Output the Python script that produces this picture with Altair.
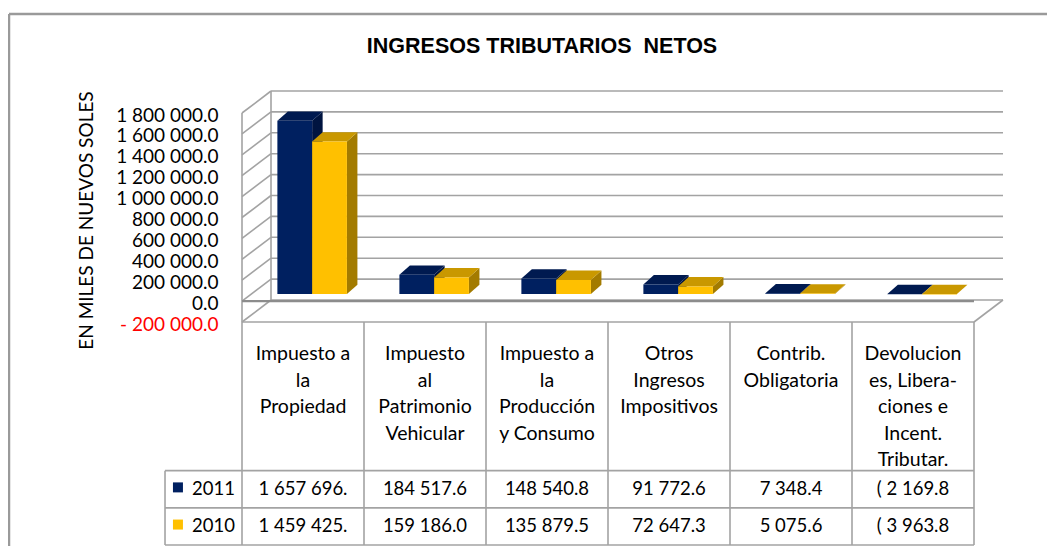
import altair as alt
import pandas as pd

# ---------------- data ----------------
TITLE = "INGRESOS TRIBUTARIOS \u00a0NETOS"
Y_TITLE = "EN MILES DE NUEVOS SOLES"
category_lines = [
    ["Impuesto a", "la", "Propiedad"],
    ["Impuesto", "al", "Patrimonio", "Vehicular"],
    ["Impuesto a", "la", "Producción", "y Consumo"],
    ["Otros", "Ingresos", "Impositivos"],
    ["Contrib.", "Obligatoria"],
    ["Devolucion", "es, Libera-", "ciones e", "Incent.", "Tributar."],
]
years = ["2011", "2010"]
values_2011 = [1657696.0, 184517.6, 148540.8, 91772.6, 7348.4, -2169.8]
values_2010 = [1459425.0, 159186.0, 135879.5, 72647.3, 5075.6, -3963.8]
table_2011 = ["1 657 696.", "184 517.6", "148 540.8", "91 772.6", "7 348.4", "( 2 169.8"]
table_2010 = ["1 459 425.", "159 186.0", "135 879.5", "72 647.3", "5 075.6", "( 3 963.8"]
y_ticks = [-200000, 0, 200000, 400000, 600000, 800000,
           1000000, 1200000, 1400000, 1600000, 1800000]

# ---------------- style ----------------
FONT = "Lato"
NAVY, NAVY_TOP, NAVY_SIDE = "#002060", "#001a50", "#001440"
GOLD, GOLD_TOP, GOLD_SIDE = "#FFC000", "#C99800", "#A37B00"
GRID, GW = "#a3a3a3", 1.6
AXIS_C = "#8c8c8c"
DX, DY = 29, -22            # wall depth (px)
BSHIFT = -7                 # bar plane shift (px)
NCAT = len(category_lines)
BAR_W = 0.285               # bar width (column units)
BAR_DEPTH_X = 0.086         # bar depth, column units (~10.5 px)
BAR_DEPTH_V = 90000         # bar depth, value units (~9.5 px)

X_SCALE = alt.Scale(domain=[0, NCAT], range=[234, 966], zero=False, nice=False)
Y_SCALE = alt.Scale(domain=[y_ticks[0], y_ticks[-1]], range=[314, 105], zero=False, nice=False)
T_SCALE = alt.Scale(domain=[0, 6], range=[314, 537], zero=False, nice=False)


def X(f):
    return alt.X(f, type="quantitative", scale=X_SCALE, axis=None)


def YV(f, axis=None):
    return alt.Y(f, type="quantitative", scale=Y_SCALE, axis=axis)


def YT(f):
    return alt.Y(f, type="quantitative", scale=T_SCALE, axis=None)


y_axis = alt.Axis(
    values=y_ticks, offset=-214, domain=False, ticks=False, tickSize=0, grid=False,
    labelPadding=4, labelFont=FONT, labelFontSize=19, labelOffset=2, labelOverlap=False,
    labelColor={"condition": {"test": "datum.value < 0", "value": "#ff0000"}, "value": "#000000"},
    labelExpr="(datum.value < 0 ? '- ' : '') + replace(format(abs(datum.value), ',.1f'), regexp(',', 'g'), ' ')",
    title=Y_TITLE, titleFont=FONT, titleFontSize=19, titleFontWeight="normal", titleColor="#000000",
    titleAngle=270, titleX=-136, titleY=212, titleAlign="center", titleBaseline="middle",
)

ticks_df = pd.DataFrame({"v": y_ticks})
one = pd.DataFrame({"k": [0]})

layers = []

# back wall gridlines (with axis labels)
layers.append(
    alt.Chart(ticks_df).transform_calculate(xl="0", xr=str(NCAT))
    .mark_rule(color=GRID, strokeWidth=GW, xOffset=DX, x2Offset=DX, yOffset=DY)
    .encode(x=X("xl"), x2="xr", y=YV("v", axis=y_axis))
)
# side wall diagonals
layers.append(
    alt.Chart(ticks_df).transform_calculate(xl="0")
    .mark_rule(color=GRID, strokeWidth=GW, x2Offset=DX, y2Offset=DY)
    .encode(x=X("xl"), x2="xl", y=YV("v"), y2="v")
)
# back wall left edge
layers.append(
    alt.Chart(one).transform_calculate(xl="0", top=str(y_ticks[-1]), bot=str(y_ticks[0]))
    .mark_rule(color=GRID, strokeWidth=GW, xOffset=DX, yOffset=DY, y2Offset=DY)
    .encode(x=X("xl"), y=YV("top"), y2="bot")
)
# side wall front edge
layers.append(
    alt.Chart(one).transform_calculate(xl="0", top=str(y_ticks[-1]), bot=str(y_ticks[0]))
    .mark_rule(color=GRID, strokeWidth=GW)
    .encode(x=X("xl"), y=YV("top"), y2="bot")
)
# floor right diagonal
layers.append(
    alt.Chart(one).transform_calculate(xr=str(NCAT), bot=str(y_ticks[0]))
    .mark_rule(color=GRID, strokeWidth=GW, x2Offset=DX, y2Offset=DY)
    .encode(x=X("xr"), x2="xr", y=YV("bot"), y2="bot")
)
# floor front edge
layers.append(
    alt.Chart(one).transform_calculate(xl="0", xr=str(NCAT), bot=str(y_ticks[0]))
    .mark_rule(color=GRID, strokeWidth=GW)
    .encode(x=X("xl"), x2="xr", y=YV("bot"))
)
# category axis line at zero
layers.append(
    alt.Chart(one).transform_calculate(xl="0", xr=str(NCAT), z="0")
    .mark_rule(color=AXIS_C, strokeWidth=2.2)
    .encode(x=X("xl"), x2="xr", y=YV("z"))
)

# bars (3-D columns: side face, top face, front face)
bars = pd.DataFrame({
    "cat": list(range(NCAT)) * 2,
    "year": [years[0]] * NCAT + [years[1]] * NCAT,
    "value": values_2011 + values_2010,
})
for yr, start, front, top, side in [
    (years[0], 0.29, NAVY, NAVY_TOP, NAVY_SIDE),
    (years[1], 0.575, GOLD, GOLD_TOP, GOLD_SIDE),
]:
    base = (
        alt.Chart(bars)
        .transform_filter(alt.datum.year == yr)
        .transform_calculate(x0=f"datum.cat + {start}", x1=f"datum.cat + {start + BAR_W}",
                             zero="0", vtop="max(datum.value, 0)")
    )
    deep = (
        base.transform_calculate(ps="[0, 1]")
        .transform_flatten(["ps"])
        .transform_calculate(
            xl=f"datum.x0 + datum.ps * {BAR_DEPTH_X}",
            xr=f"datum.x1 + datum.ps * {BAR_DEPTH_X}",
            yt=f"datum.vtop + datum.ps * {BAR_DEPTH_V}",
            yb=f"datum.ps * {BAR_DEPTH_V}",
        )
    )
    layers.append(
        deep.mark_area(color=side, orient="vertical", opacity=1, yOffset=BSHIFT, y2Offset=BSHIFT)
        .encode(x=X("xr"), y=YV("yt"), y2="yb", detail="cat:N")
    )
    layers.append(
        deep.mark_area(color=top, orient="horizontal", opacity=1, yOffset=BSHIFT)
        .encode(y=YV("yt"), x=X("xl"), x2="xr", detail="cat:N")
    )
    layers.append(
        base.mark_rect(color=front, yOffset=BSHIFT, y2Offset=BSHIFT)
        .encode(x=X("x0"), x2="x1", y=YV("value"), y2="zero")
    )

# data table grid
LEG_L = -0.631
layers.append(
    alt.Chart(alt.sequence(0, NCAT + 1, as_="e")).transform_calculate(t0="0", t1="6")
    .mark_rule(color=GRID, strokeWidth=GW)
    .encode(x=X("e"), y=YT("t0"), y2="t1")
)
layers.append(
    alt.Chart(one).transform_calculate(xl=str(LEG_L), t0="4", t1="6")
    .mark_rule(color=GRID, strokeWidth=GW)
    .encode(x=X("xl"), y=YT("t0"), y2="t1")
)
layers.append(
    alt.Chart(alt.sequence(4, 7, as_="r")).transform_calculate(xl=str(LEG_L), xr=str(NCAT))
    .mark_rule(color=GRID, strokeWidth=GW)
    .encode(x=X("xl"), x2="xr", y=YT("r"))
)

# header labels
hdr = pd.DataFrame({"cat": list(range(NCAT)), "label": ["\n".join(l) for l in category_lines]})
layers.append(
    alt.Chart(hdr).transform_calculate(xc="datum.cat + 0.5", ty="0")
    .mark_text(font=FONT, fontSize=19.5, lineBreak="\n", lineHeight=26.5,
               baseline="alphabetic", dy=38, align="center", color="#000000")
    .encode(x=X("xc"), y=YT("ty"), text="label:N")
)

# table values
tab = pd.DataFrame({
    "cat": list(range(NCAT)) * 2,
    "year": [years[0]] * NCAT + [years[1]] * NCAT,
    "label": table_2011 + table_2010,
})
layers.append(
    alt.Chart(tab).transform_calculate(xc="datum.cat + 0.5",
                                       ty=f"datum.year == '{years[0]}' ? 4.5 : 5.5")
    .mark_text(font=FONT, fontSize=18.5, baseline="middle", align="center", color="#000000")
    .encode(x=X("xc"), y=YT("ty"), text="label:N")
)

# legend keys in table
leg = pd.DataFrame({"year": years})
layers.append(
    alt.Chart(leg).transform_calculate(xs="-0.525", ty=f"datum.year == '{years[0]}' ? 4.45 : 5.45")
    .mark_square(size=100, opacity=1, filled=True)
    .encode(x=X("xs"), y=YT("ty"),
            color=alt.Color("year:N", scale=alt.Scale(domain=years, range=[NAVY, GOLD]), legend=None))
)
layers.append(
    alt.Chart(leg).transform_calculate(xs="-0.41", ty=f"datum.year == '{years[0]}' ? 4.5 : 5.5")
    .mark_text(font=FONT, fontSize=18.5, baseline="middle", align="left", color="#000000")
    .encode(x=X("xs"), y=YT("ty"), text="year:N")
)

# title
layers.append(
    alt.Chart(pd.DataFrame({"t": [TITLE]}))
    .mark_text(font="Liberation Sans", fontWeight="bold", fontSize=21.5, align="center",
               baseline="alphabetic", color="#000000")
    .encode(x=alt.value(534), y=alt.value(45), text="t:N")
)

# outer chart frame
layers.append(
    alt.Chart(one).mark_rule(color="#9a9a9a", strokeWidth=2.5)
    .encode(x=alt.value(1), x2=alt.value(1039), y=alt.value(6))
)
layers.append(
    alt.Chart(one).mark_rule(color="#9a9a9a", strokeWidth=2.5)
    .encode(x=alt.value(1), y=alt.value(6), y2=alt.value(538))
)

chart = (
    alt.layer(*layers)
    .resolve_scale(y="independent")
    .properties(width=1039, height=538, padding=0,
                autosize=alt.AutoSizeParams(type="none"))
    .configure_view(stroke=None)
)

chart.save("out.html", embed_options={"renderer": "svg", "actions": False})
